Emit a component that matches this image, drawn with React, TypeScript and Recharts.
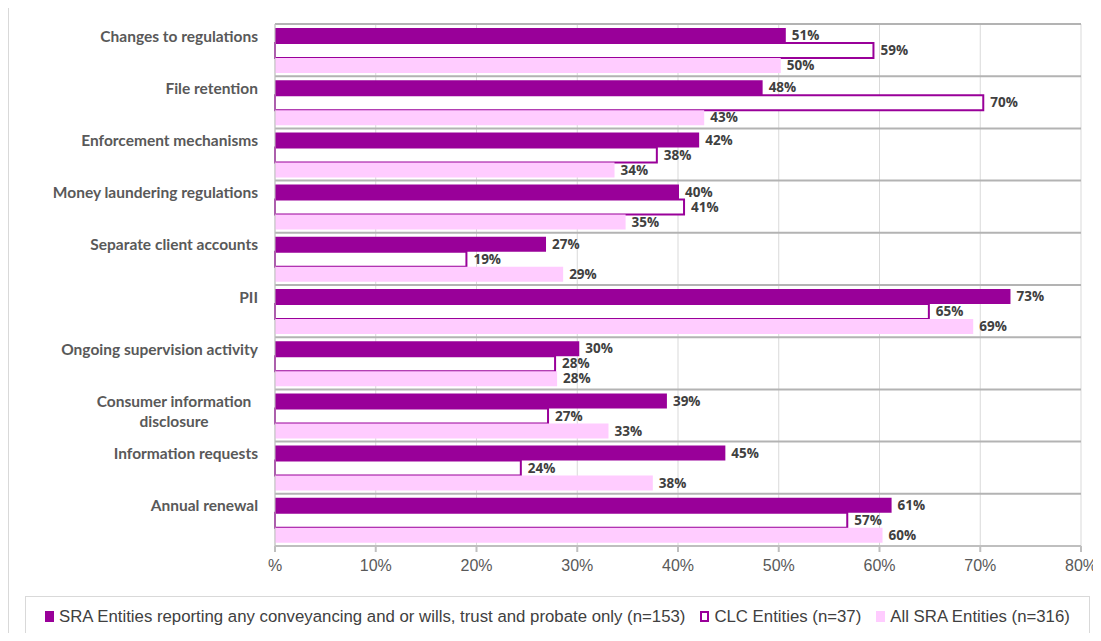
import React from 'react';
import {
  BarChart,
  Bar,
  XAxis,
  YAxis,
  CartesianGrid,
  LabelList,
} from 'recharts';

const categories = [
  'Changes to regulations',
  'File retention',
  'Enforcement mechanisms',
  'Money laundering regulations',
  'Separate client accounts',
  'PII',
  'Ongoing supervision activity',
  'Consumer information disclosure',
  'Information requests',
  'Annual renewal',
];

// values in %
const sraValues = [50.7, 48.4, 42.1, 40.1, 26.9, 73.0, 30.2, 38.9, 44.7, 61.2];
const clcValues = [59.4, 70.3, 37.9, 40.6, 19.0, 64.9, 27.8, 27.1, 24.4, 56.8];
const allValues = [50.2, 42.6, 33.7, 34.8, 28.6, 69.3, 28.0, 33.1, 37.5, 60.3];

const xTicks = [0, 10, 20, 30, 40, 50, 60, 70, 80];

const seriesNames = [
  'SRA Entities reporting any conveyancing and or wills, trust and probate only (n=153)',
  'CLC Entities (n=37)',
  'All SRA Entities (n=316)',
];

// Excel wrapped this one label onto two lines
const wrappedLabels: Record<string, string[]> = {
  'Consumer information disclosure': ['Consumer information', 'disclosure'],
};

const PURPLE = '#990099';
const PINK = '#ffccff';
const TEXT = '#595959';
const NARROW = '"Liberation Sans Narrow", "Liberation Sans", sans-serif';
const LABEL_FONT = '"Open Sans", "DejaVu Sans", sans-serif';
const CAT_FONT = 'Lato, "Open Sans", sans-serif';

const data = categories.map((category, i) => ({
  category,
  sra: sraValues[i],
  clc: clcValues[i],
  all: allValues[i],
}));

const CategoryTick = (props: any) => {
  const { x, y, payload } = props;
  const lines = wrappedLabels[payload.value];
  const common = {
    fill: TEXT,
    fontSize: 15.5,
    fontWeight: 700,
    fontFamily: CAT_FONT,
  };
  if (lines) {
    return (
      <g>
        {lines.map((ln, i) => (
          <text key={i} x={x - 93} y={y - 14 + i * 20} dy="0.35em" textAnchor="middle" {...common}>
            {ln}
          </text>
        ))}
      </g>
    );
  }
  return (
    <text x={x - 9} y={y - 14} dy="0.35em" textAnchor="end" {...common}>
      {payload.value}
    </text>
  );
};

const pct = (v: any) => `${Math.round(Number(v))}%`;

const valueLabel = {
  fill: '#404040',
  fontSize: 13.5,
  fontWeight: 700,
  fontFamily: LABEL_FONT,
};

export default function App() {
  const n = categories.length;
  return (
    <div style={{ position: 'relative', margin: -8, width: 1101, height: 641, background: '#fff', overflow: 'hidden' }}>
      <div
        style={{
          position: 'absolute',
          left: 8,
          top: 5,
          width: 1200,
          height: 700,
          borderLeft: '1px solid #d9d9d9',
          borderTop: '1px solid #d9d9d9',
        }}
      />
      <div style={{ position: 'absolute', left: 0, top: 0 }}>
        <BarChart
          width={1101}
          height={590}
          data={data}
          layout="vertical"
          barGap={0}
          margin={{ top: 24, right: 20, left: 10, bottom: 14 }}
        >
          <CartesianGrid horizontal={false} stroke="#d9d9d9" />
          <CartesianGrid
            vertical={false}
            stroke="#b3b3b3"
            strokeWidth={2}
            horizontalCoordinatesGenerator={({ offset }: any) =>
              Array.from({ length: n + 1 }, (_, i) => offset.top + (offset.height * i) / n)
            }
          />
          <XAxis
            type="number"
            domain={[0, 80]}
            ticks={xTicks}
            tickFormatter={(v) => (v === 0 ? '%' : `${v}%`)}
            axisLine={{ stroke: '#bfbfbf', strokeWidth: 2 }}
            tickLine={{ stroke: '#bfbfbf', strokeWidth: 2 }}
            tickSize={6}
            tickMargin={8}
            tick={{ fill: TEXT, fontSize: 16, fontFamily: NARROW }}
            height={30}
          />
          <YAxis
            type="category"
            dataKey="category"
            width={265}
            axisLine={{ stroke: '#bfbfbf' }}
            tickLine={false}
            tick={<CategoryTick />}
            interval={0}
          />
          <Bar dataKey="sra" name={seriesNames[0]} fill={PURPLE} barSize={15} isAnimationActive={false}>
            <LabelList dataKey="sra" position="right" offset={6} formatter={pct} style={valueLabel} />
          </Bar>
          <Bar
            dataKey="clc"
            name={seriesNames[1]}
            fill="#ffffff"
            stroke={PURPLE}
            strokeWidth={2}
            barSize={15}
            isAnimationActive={false}
          >
            <LabelList dataKey="clc" position="right" offset={7} formatter={pct} style={valueLabel} />
          </Bar>
          <Bar dataKey="all" name={seriesNames[2]} fill={PINK} barSize={15} isAnimationActive={false}>
            <LabelList dataKey="all" position="right" offset={6} formatter={pct} style={valueLabel} />
          </Bar>
        </BarChart>
      </div>
      <div
        style={{
          position: 'absolute',
          left: 25,
          top: 596,
          width: 1065,
          height: 41,
          border: '1px solid #d9d9d9',
          boxSizing: 'border-box',
          display: 'flex',
          alignItems: 'center',
          paddingLeft: 19,
          fontFamily: NARROW,
          fontSize: 16.8,
          color: '#404040',
          whiteSpace: 'nowrap',
        }}
      >
        {seriesNames.map((name, i) => (
          <span key={name} style={{ display: 'flex', alignItems: 'center', marginRight: 15 }}>
            <span
              style={{
                display: 'inline-block',
                width: 9,
                height: 11,
                boxSizing: 'border-box',
                marginRight: 5,
                background: i === 0 ? PURPLE : i === 1 ? '#fff' : PINK,
                border: i === 1 ? `2px solid ${PURPLE}` : 'none',
              }}
            />
            {name}
          </span>
        ))}
      </div>
    </div>
  );
}
